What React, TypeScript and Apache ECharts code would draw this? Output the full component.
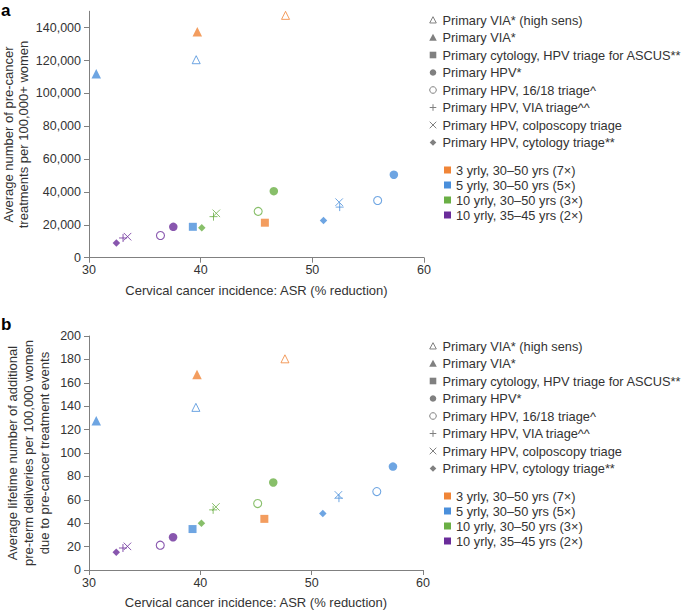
import React, { useEffect, useRef } from "react";
import * as echarts from "echarts";

// ---- Data ----
const shapeLabels = [
  "Primary VIA* (high sens)",
  "Primary VIA*",
  "Primary cytology, HPV triage for ASCUS**",
  "Primary HPV*",
  "Primary HPV, 16/18 triage^",
  "Primary HPV, VIA triage^^",
  "Primary HPV, colposcopy triage",
  "Primary HPV, cytology triage**",
];
const scheduleLabels = [
  "3 yrly, 30–50 yrs (7×)",
  "5 yrly, 30–50 yrs (5×)",
  "10 yrly, 30–50 yrs (3×)",
  "10 yrly, 35–45 yrs (2×)",
];
const scheduleColors = ["#F08537", "#4A8FDB", "#6AAF45", "#6A2C9A"];

// per strategy point
const pointShape = [0, 1, 0, 1, 3, 4, 6, 5, 7, 3, 4, 2, 6, 5, 7, 2, 3, 4, 6, 5, 7];
const pointSchedule = [0, 0, 1, 1, 1, 1, 1, 1, 1, 2, 2, 0, 2, 2, 2, 1, 3, 3, 3, 3, 3];
const asrReduction = [
  47.6, 39.7, 39.6, 30.65, 57.3, 55.85, 52.4, 52.45, 51.0, 46.55, 45.15, 45.75, 41.4,
  41.15, 40.1, 39.3, 37.55, 36.4, 33.45, 33.05, 32.45,
];
const treatmentsPer100k = [
  147500, 137500, 120500, 112000, 50500, 34800, 33800, 30800, 22600, 40500, 28200, 21300,
  27000, 25000, 18300, 18800, 18800, 13500, 12800, 12000, 8900,
];
const pretermPer100k = [
  180.5, 167.2, 139.0, 127.6, 88.4, 67.0, 64.2, 61.4, 48.2, 74.8, 56.8, 43.7, 53.9, 51.4,
  40.0, 35.0, 28.0, 21.2, 20.2, 18.8, 15.2,
];

const xAxisTicks = { min: 30, max: 60, interval: 10 };
const yAxisA = { min: 0, max: 150000, interval: 20000 };
const yAxisB = { min: 0, max: 200, interval: 20 };

const yNameA = "Average number of pre-cancer\ntreatments per 100,000+ women";
const yNameB =
  "Average lifetime number of additional\npre-term deliveries per 100,000 women\ndue to pre-cancer treatment events";
const xName = "Cervical cancer incidence: ASR (% reduction)";

// ---- Styling ----
const FONT = "'Liberation Sans', Arial, sans-serif";
const TEXT = "#333333";
const AXIS = "#808080";
const GRAY = "#808080";

type ShapeDef = { symbol: string; size: number; hollow: boolean; stroke?: number };
const PLUS = "path://M0,5L10,5M5,0L5,10";
const CROSS = "path://M0,0L10,10M10,0L0,10";
const shapeDefs: ShapeDef[] = [
  { symbol: "triangle", size: 8, hollow: true, stroke: 1 },
  { symbol: "triangle", size: 9.5, hollow: false },
  { symbol: "rect", size: 8, hollow: false },
  { symbol: "circle", size: 8.5, hollow: false },
  { symbol: "circle", size: 8, hollow: true, stroke: 1.1 },
  { symbol: PLUS, size: 8, hollow: true, stroke: 1 },
  { symbol: CROSS, size: 7.5, hollow: true, stroke: 1 },
  { symbol: "diamond", size: 7.5, hollow: false },
];

function legendIcon(shape: number, cx: number, cy: number): any {
  const s = 3.3;
  const fillStyle = { fill: GRAY };
  const strokeStyle = { fill: "none", stroke: GRAY, lineWidth: 1 };
  switch (shape) {
    case 0:
      return {
        type: "polygon",
        shape: { points: [[cx, cy - s], [cx + s, cy + s * 0.9], [cx - s, cy + s * 0.9]] },
        style: strokeStyle,
      };
    case 1:
      return {
        type: "polygon",
        shape: { points: [[cx, cy - s - 0.5], [cx + s + 0.5, cy + s], [cx - s - 0.5, cy + s]] },
        style: fillStyle,
      };
    case 2:
      return { type: "rect", shape: { x: cx - s, y: cy - s, width: 2 * s, height: 2 * s }, style: fillStyle };
    case 3:
      return { type: "circle", shape: { cx, cy, r: s }, style: fillStyle };
    case 4:
      return { type: "circle", shape: { cx, cy, r: s }, style: strokeStyle };
    case 5:
      return {
        type: "group",
        children: [
          { type: "line", shape: { x1: cx - s, y1: cy, x2: cx + s, y2: cy }, style: strokeStyle },
          { type: "line", shape: { x1: cx, y1: cy - s, x2: cx, y2: cy + s }, style: strokeStyle },
        ],
      };
    case 6:
      return {
        type: "group",
        children: [
          { type: "line", shape: { x1: cx - s, y1: cy - s, x2: cx + s, y2: cy + s }, style: strokeStyle },
          { type: "line", shape: { x1: cx + s, y1: cy - s, x2: cx - s, y2: cy + s }, style: strokeStyle },
        ],
      };
    default:
      return {
        type: "polygon",
        shape: { points: [[cx, cy - s], [cx + s, cy], [cx, cy + s], [cx - s, cy]] },
        style: fillStyle,
      };
  }
}

function legendGraphics(offsetY: number): any[] {
  const out: any[] = [];
  shapeLabels.forEach((label, i) => {
    const cy = offsetY + 20 + i * 17.5;
    out.push(legendIcon(i, 433, cy));
    out.push({
      type: "text",
      style: {
        text: label,
        x: 442.5,
        y: cy,
        fill: TEXT,
        font: `12.8px ${FONT}`,
        lineHeight: 14,
        verticalAlign: "middle",
      },
    });
  });
  scheduleLabels.forEach((label, j) => {
    const cy = offsetY + 170 + j * 15;
    out.push({
      type: "rect",
      shape: { x: 444, y: cy - 3.5, width: 7, height: 7 },
      style: { fill: scheduleColors[j] },
    });
    out.push({
      type: "text",
      style: {
        text: label,
        x: 456,
        y: cy,
        fill: TEXT,
        font: `12.8px ${FONT}`,
        lineHeight: 14,
        verticalAlign: "middle",
      },
    });
  });
  return out;
}

function buildSeries(panel: number, values: number[]): any[] {
  return shapeDefs.map((def, s) => {
    const data: any[] = [];
    pointShape.forEach((ps, k) => {
      if (ps !== s) return;
      const c = scheduleColors[pointSchedule[k]];
      data.push({
        value: [asrReduction[k], values[k]],
        itemStyle: def.hollow
          ? { color: "transparent", borderColor: c, borderWidth: def.stroke }
          : { color: c, borderWidth: 0 },
      });
    });
    return {
      type: "scatter",
      name: `${panel === 0 ? "a" : "b"}: ${shapeLabels[s]}`,
      xAxisIndex: panel,
      yAxisIndex: panel,
      symbol: def.symbol,
      symbolSize: def.size,
      clip: false,
      data,
    };
  });
}

const axisCommon = {
  axisLine: { show: true, lineStyle: { color: AXIS, width: 1 } },
  axisTick: { show: true, inside: false, length: 5, lineStyle: { color: AXIS } },
  splitLine: { show: false },
};

export default function App() {
  const ref = useRef<HTMLDivElement>(null);
  useEffect(() => {
    if (!ref.current) return;
    const chart = echarts.init(ref.current, undefined, { renderer: "svg" });
    const xAxisFor = (gridIndex: number) => ({
      type: "value",
      gridIndex,
      ...xAxisTicks,
      ...axisCommon,
      name: xName,
      nameLocation: "middle",
      nameGap: 26,
      nameTextStyle: { color: TEXT, fontSize: 13, fontFamily: FONT },
      axisLabel: { color: TEXT, fontSize: 12.5, fontFamily: FONT, margin: 6 },
    });
    chart.setOption({
      animation: false,
      backgroundColor: "#ffffff",
      textStyle: { fontFamily: FONT },
      grid: [
        { left: 89, right: 261, top: 11.25, bottom: 353.3 },
        { left: 89, right: 262, top: 336, bottom: 41 },
      ],
      xAxis: [xAxisFor(0), xAxisFor(1)],
      yAxis: [
        {
          type: "value",
          gridIndex: 0,
          ...yAxisA,
          ...axisCommon,
          name: yNameA,
          nameLocation: "middle",
          nameGap: 58,
          nameTextStyle: { color: TEXT, fontSize: 13, fontFamily: FONT, lineHeight: 15 },
          axisLabel: {
            color: TEXT,
            fontSize: 12.5,
            fontFamily: FONT,
            margin: 8,
            showMaxLabel: false,
            formatter: (v: number) => v.toLocaleString("en-US"),
          },
        },
        {
          type: "value",
          gridIndex: 1,
          ...yAxisB,
          ...axisCommon,
          name: yNameB,
          nameLocation: "middle",
          nameGap: 37,
          nameTextStyle: { color: TEXT, fontSize: 13, fontFamily: FONT, lineHeight: 16 },
          axisLabel: { color: TEXT, fontSize: 12.5, fontFamily: FONT, margin: 8 },
        },
      ],
      series: [...buildSeries(0, treatmentsPer100k), ...buildSeries(1, pretermPer100k)],
      graphic: [
        {
          type: "text",
          style: { text: "a", x: 1, y: 2, fill: "#000", font: `bold 17px ${FONT}` },
        },
        {
          type: "text",
          style: { text: "b", x: 1, y: 316, fill: "#000", font: `bold 17px ${FONT}` },
        },
        ...legendGraphics(0),
        ...legendGraphics(326),
      ],
    });
    return () => chart.dispose();
  }, []);
  return (
    <div
      ref={ref}
      style={{ position: "fixed", left: 0, top: 0, width: 685, height: 611, background: "#fff" }}
    />
  );
}
